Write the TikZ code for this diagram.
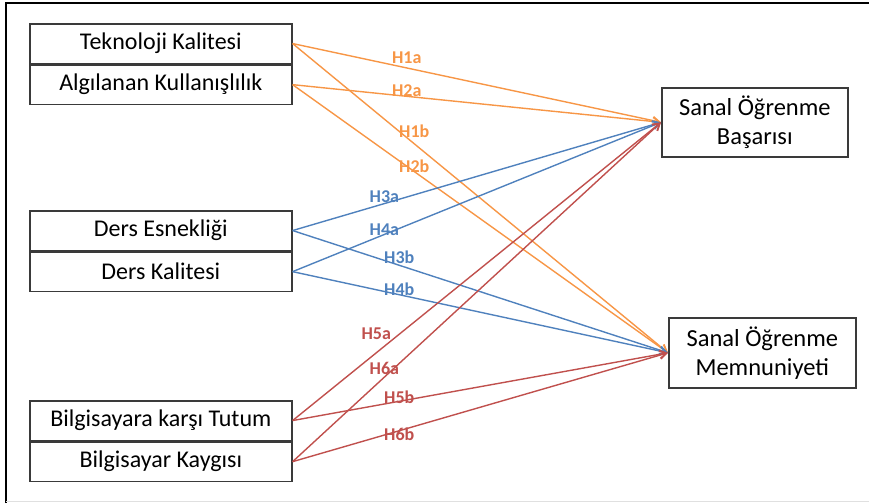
\documentclass[tikz,border=0pt]{standalone}
\usepackage{fontspec}
\setmainfont{Carlito}
\usepackage{tikz}
\usetikzlibrary{arrows.meta,positioning}
\definecolor{PathOrange}{HTML}{F79646}
\definecolor{PathBlue}{HTML}{4F81BD}
\definecolor{PathRed}{HTML}{C0504D}
\definecolor{BoxInk}{HTML}{3A3A3A}
\tikzset{
  varbox/.style={draw=BoxInk,line width=1.6pt,fill=white,minimum width=262pt,minimum height=39.5pt,inner sep=0pt,align=center,font=\fontsize{24}{28}\selectfont},
  outbox/.style={draw=BoxInk,line width=1.6pt,fill=white,minimum height=69pt,inner sep=0pt,align=center,font=\fontsize{24.5}{29}\selectfont},
  hyppath/.style={line width=1.4pt,-{Straight Barb[length=7pt,width=8pt]}},
  hyplabel/.style={font=\bfseries\fontsize{18}{20}\selectfont,inner sep=0pt},
  frameline/.style={line width=1.8pt,black}
}
\begin{document}
\begin{tikzpicture}[x=1pt,y=-1pt]
  \useasboundingbox (0,0) rectangle (869,503);
  \draw[frameline] (6,503) -- (6,3) -- (869,3);
  \draw[line width=1pt,black!12] (6,501.5) -- (869,501.5);

  % independent variables
  \node[varbox,anchor=north west] (tek) at (29,23) {Teknoloji Kalitesi};
  \node[varbox,below=0pt of tek] (alg) {Algılanan Kullanışlılık};
  \node[varbox,anchor=north west] (esn) at (29,210) {Ders Esnekliği};
  \node[varbox,below=0pt of esn] (kal) {Ders Kalitesi};
  \node[varbox,anchor=north west] (tut) at (29,400) {Bilgisayara karşı Tutum};
  \node[varbox,below=0pt of tut] (kay) {Bilgisayar Kaygısı};

  % dependent variables
  \node[outbox,minimum width=186pt,anchor=north west] (bas) at (661,87) {Sanal Öğrenme\\Başarısı};
  \node[outbox,minimum width=187pt,minimum height=70pt,anchor=north west] (mem) at (668,317) {Sanal Öğrenme\\Memnuniyeti};

  % hypotheses
  \draw[hyppath,PathOrange] (tek.east) -- node[hyplabel,pos=0.31,yshift=10pt] (h1a) {H1a} (bas.west);
  \draw[hyppath,PathOrange] (alg.east) -- node[hyplabel,pos=0.31,yshift=6pt] (h2a) {H2a} (bas.west);
  \draw[hyppath,PathOrange] (tek.east) -- node[hyplabel,pos=0.324,yshift=12pt] (h1b) {H1b} (mem.west);
  \draw[hyppath,PathOrange] (alg.east) -- node[hyplabel,pos=0.324,yshift=5pt] (h2b) {H2b} (mem.west);
  \draw[hyppath,PathBlue] (esn.east) -- node[hyplabel,pos=0.249,yshift=7pt] (h3a) {H3a} (bas.west);
  \draw[hyppath,PathBlue] (kal.east) -- node[hyplabel,pos=0.249,yshift=5pt] (h4a) {H4a} (bas.west);
  \draw[hyppath,PathBlue] (esn.east) -- node[hyplabel,pos=0.284,yshift=8pt] (h3b) {H3b} (mem.west);
  \draw[hyppath,PathBlue] (kal.east) -- node[hyplabel,pos=0.284,yshift=5pt] (h4b) {H4b} (mem.west);
  \draw[hyppath,PathRed] (tut.east) -- node[hyplabel,pos=0.227,yshift=19pt] (h5a) {H5a} (bas.west);
  \draw[hyppath,PathRed] (kay.east) -- node[hyplabel,pos=0.249,yshift=9pt] (h6a) {H6a} (bas.west);
  \draw[hyppath,PathRed] (tut.east) -- node[hyplabel,pos=0.284,yshift=4pt] (h5b) {H5b} (mem.west);
  \draw[hyppath,PathRed] (kay.east) -- node[hyplabel,pos=0.284,yshift=-4pt] (h6b) {H6b} (mem.west);
\end{tikzpicture}
\end{document}
